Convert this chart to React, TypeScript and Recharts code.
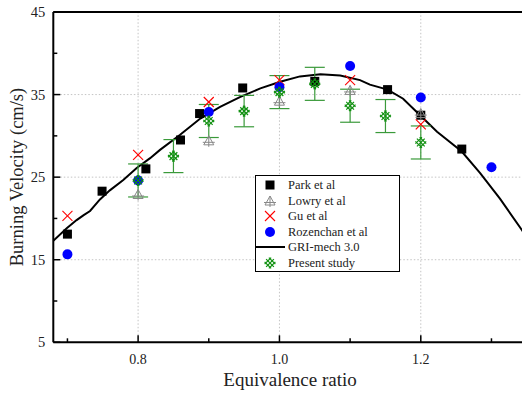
import React from 'react';
import { ComposedChart, Line, Scatter, XAxis, YAxis, ReferenceLine, ErrorBar } from 'recharts';

const parkX = [0.7, 0.749, 0.811, 0.86, 0.887, 0.948, 1.05, 1.153, 1.2, 1.258];
const parkY = [18.1, 23.3, 26.0, 29.5, 32.7, 35.8, 36.6, 35.6, 32.5, 28.4];

const lowryX = [0.8, 0.9, 1.0, 1.1, 1.2];
const lowryY = [22.9, 29.4, 34.2, 35.5, 32.7];

const guX = [0.7, 0.8, 0.9, 1.0, 1.1, 1.2];
const guY = [20.3, 27.7, 34.1, 36.75, 36.75, 31.4];

const rozX = [0.7, 0.8, 0.9, 1.0, 1.1, 1.2, 1.3];
const rozY = [15.65, 24.6, 32.9, 35.9, 38.45, 34.65, 26.2];

const presentX = [0.8, 0.85, 0.9, 0.95, 1.0, 1.05, 1.1, 1.15, 1.2];
const presentY = [24.6, 27.55, 31.8, 33.0, 35.3, 36.3, 33.65, 32.4, 29.2];
const presentErr = [2.0, 2.0, 2.0, 1.9, 2.0, 2.0, 2.0, 2.0, 2.0];

const griX = [0.68, 0.699, 0.713, 0.723, 0.732, 0.746, 0.76, 0.779, 0.798, 0.817, 0.831, 0.859, 0.888, 0.916, 0.944, 0.973, 1.001, 1.029, 1.058, 1.086, 1.114, 1.128, 1.153, 1.175, 1.199, 1.223, 1.258, 1.284, 1.312, 1.343, 1.35];
const griY = [17.3, 18.8, 19.8, 20.4, 20.9, 22.3, 23.4, 24.65, 26.1, 27.3, 28.3, 30.1, 32.1, 33.5, 34.7, 35.75, 36.55, 37.2, 37.45, 37.3, 36.75, 36.2, 35.6, 34.5, 32.5, 30.5, 28.1, 25.5, 22.4, 18.6, 17.7];

const xTicks = [0.7, 0.8, 0.9, 1.0, 1.1, 1.2, 1.3];
const xMajor = [0.8, 1.0, 1.2];
const yTicks = [5, 10, 15, 20, 25, 30, 35, 40, 45];
const yMajor = [5, 15, 25, 35, 45];

const zip = (xs: number[], ys: number[]) => xs.map((x, i) => ({ x, y: ys[i] }));
const parkData = zip(parkX, parkY);
const lowryData = zip(lowryX, lowryY);
const guData = zip(guX, guY);
const rozData = zip(rozX, rozY);
const presentData = presentX.map((x, i) => ({ x, y: presentY[i], e: presentErr[i] }));
const griData = zip(griX, griY);

const FONT = "'Times New Roman', 'Liberation Serif', Tinos, 'DejaVu Serif', 'Noto Serif', serif";
const GREEN = '#109010';
const ERR_GREEN = '#3a9a3a';

const SquareSym = ({ cx, cy }: any) => <rect x={cx - 4.5} y={cy - 4.5} width={9} height={9} fill="#000" />;
const CircleSym = ({ cx, cy }: any) => <circle cx={cx} cy={cy} r={5} fill="#0000ff" />;
const XSym = ({ cx, cy }: any) => (
  <g stroke="#ff0000" strokeWidth={1.1}>
    <line x1={cx - 5} y1={cy - 5} x2={cx + 5} y2={cy + 5} />
    <line x1={cx - 5} y1={cy + 5} x2={cx + 5} y2={cy - 5} />
  </g>
);
const TriSym = ({ cx, cy }: any) => (
  <g stroke="#888" strokeWidth={1} fill="none">
    <polygon points={`${cx},${cy - 5} ${cx + 5},${cy + 4} ${cx - 5},${cy + 4}`} />
    <line x1={cx} y1={cy - 5} x2={cx} y2={cy + 6} />
    <line x1={cx - 6} y1={cy + 1.5} x2={cx + 6} y2={cy + 1.5} />
  </g>
);
const HatchSym = ({ cx, cy }: any) => {
  const r = 5.5;
  const lines: any[] = [];
  const q = Math.SQRT1_2;
  [-3, 0, 3].forEach((s) => {
    const h = Math.sqrt(r * r - s * s);
    const nx = s * q, ny = -s * q;
    lines.push([cx + nx - h * q, cy + ny - h * q, cx + nx + h * q, cy + ny + h * q]);
    const mx = s * q, my = s * q;
    lines.push([cx + mx - h * q, cy + my + h * q, cx + mx + h * q, cy + my - h * q]);
  });
  return (
    <g stroke={GREEN} strokeWidth={1.2}>
      {lines.map((l, i) => <line key={i} x1={l[0]} y1={l[1]} x2={l[2]} y2={l[3]} />)}
    </g>
  );
};

const isIn = (arr: number[], v: number) => arr.some((a) => Math.abs(a - v) < 1e-6);

const XTick = (props: any) => {
  const { x, y, payload } = props;
  const major = isIn(xMajor, payload.value);
  return (
    <g>
      <line x1={x} x2={x} y1={y} y2={y - (major ? 7 : 4)} stroke="#000" strokeWidth={1.5} />
      {major && (
        <text x={x} y={y + 22} textAnchor="middle" style={{ fontFamily: FONT }} fontSize={14} fill="#222">
          {payload.value.toFixed(1)}
        </text>
      )}
    </g>
  );
};

const YTick = (props: any) => {
  const { x, y, payload } = props;
  const major = isIn(yMajor, payload.value);
  return (
    <g>
      <line x1={x} x2={x + (major ? 7 : 4)} y1={y} y2={y} stroke="#000" strokeWidth={1.5} />
      {major && (
        <text x={x - 8} y={y + 5} textAnchor="end" style={{ fontFamily: FONT }} fontSize={14.5} fill="#222">
          {payload.value}
        </text>
      )}
    </g>
  );
};

const legendItems: { label: string; sym: string }[] = [
  { label: 'Park et al', sym: 'square' },
  { label: 'Lowry et al', sym: 'tri' },
  { label: 'Gu et al', sym: 'x' },
  { label: 'Rozenchan et al', sym: 'circle' },
  { label: 'GRI-mech 3.0', sym: 'line' },
  { label: 'Present study', sym: 'hatch' },
];

const LegendSym = ({ sym }: { sym: string }) => {
  const cx = 14, cy = 8;
  let el: any = null;
  if (sym === 'square') el = <SquareSym cx={cx} cy={cy} />;
  if (sym === 'tri') el = <TriSym cx={cx} cy={cy} />;
  if (sym === 'x') el = <XSym cx={cx} cy={cy} />;
  if (sym === 'circle') el = <CircleSym cx={cx} cy={cy} />;
  if (sym === 'hatch') el = <HatchSym cx={cx} cy={cy} />;
  if (sym === 'line') el = <line x1={0} x2={29} y1={cy} y2={cy} stroke="#000" strokeWidth={2} />;
  return (
    <svg width={30} height={16} style={{ position: 'absolute', left: 0, top: 0, overflow: 'visible' }}>
      {el}
    </svg>
  );
};

export default function App() {
  return (
    <div style={{ position: 'absolute', left: 0, top: 0, width: 522, height: 393, overflow: 'hidden', background: '#fff', fontFamily: FONT }}>
      <ComposedChart
        width={530}
        height={393}
        margin={{ top: 12, right: 3.2, bottom: 0, left: 0 }}
        style={{ fontFamily: FONT }}
      >
        <XAxis
          dataKey="x"
          type="number"
          domain={[0.68, 1.35]}
          allowDataOverflow
          ticks={xTicks}
          tick={<XTick />}
          tickLine={false}
          tickSize={0}
          tickMargin={0}
          height={50.7}
          axisLine={{ stroke: '#000', strokeWidth: 2 }}
          interval={0}
          label={{
            content: (p: any) => {
              const vb = p.viewBox || {};
              return (
                <text x={vb.x + vb.width / 2} y={386} textAnchor="middle" style={{ fontFamily: FONT }} fontSize={19} fill="#222">
                  Equivalence ratio
                </text>
              );
            },
          }}
        />
        <YAxis
          type="number"
          domain={[5, 45]}
          allowDataOverflow
          ticks={yTicks}
          tick={<YTick />}
          tickLine={false}
          tickSize={0}
          tickMargin={0}
          width={53.3}
          axisLine={{ stroke: '#000', strokeWidth: 2 }}
          interval={0}
          label={{
            content: () => (
              <text
                x={17}
                y={177}
                textAnchor="middle"
                dominantBaseline="central"
                transform="rotate(-90 17 177)"
                style={{ fontFamily: FONT }}
                fontSize={18.5}
                fill="#222"
              >
                Burning Velocity (cm/s)
              </text>
            ),
          }}
        />
        {xMajor.map((v) => (
          <ReferenceLine key={'vx' + v} x={v} stroke="#c4c4c4" strokeDasharray="1.5 2" />
        ))}
        {[15, 25, 35].map((v) => (
          <ReferenceLine key={'hy' + v} y={v} stroke="#c4c4c4" strokeDasharray="1.5 2" />
        ))}
        <ReferenceLine y={45} stroke="#000" strokeWidth={2} />
        <Line data={griData} dataKey="y" type="linear" stroke="#000" strokeWidth={2} dot={false} isAnimationActive={false} />
        <Scatter data={parkData} dataKey="y" shape={(p: any) => <SquareSym cx={p.cx} cy={p.cy} />} isAnimationActive={false} />
        <Scatter data={lowryData} dataKey="y" shape={(p: any) => <TriSym cx={p.cx} cy={p.cy} />} isAnimationActive={false} />
        <Scatter data={guData} dataKey="y" shape={(p: any) => <XSym cx={p.cx} cy={p.cy} />} isAnimationActive={false} />
        <Scatter data={rozData} dataKey="y" shape={(p: any) => <CircleSym cx={p.cx} cy={p.cy} />} isAnimationActive={false} />
        <Scatter data={presentData} dataKey="y" shape={(p: any) => <HatchSym cx={p.cx} cy={p.cy} />} isAnimationActive={false}>
          <ErrorBar dataKey="e" direction="y" width={10} stroke={ERR_GREEN} strokeWidth={1.2} isAnimationActive={false} />
        </Scatter>
      </ComposedChart>
      <div
        style={{
          position: 'absolute',
          left: 255,
          top: 175,
          width: 143,
          height: 95,
          border: '1px solid #000',
          background: '#fff',
          fontFamily: FONT,
          fontSize: 12.5,
          color: '#222',
        }}
      >
        {legendItems.map((it, i) => (
          <div key={it.label} style={{ position: 'absolute', left: 0, top: 1 + i * 15.6, height: 16, width: 143 }}>
            <LegendSym sym={it.sym} />
            <span style={{ position: 'absolute', left: 32, top: 0, lineHeight: '16px', whiteSpace: 'nowrap' }}>{it.label}</span>
          </div>
        ))}
      </div>
    </div>
  );
}
